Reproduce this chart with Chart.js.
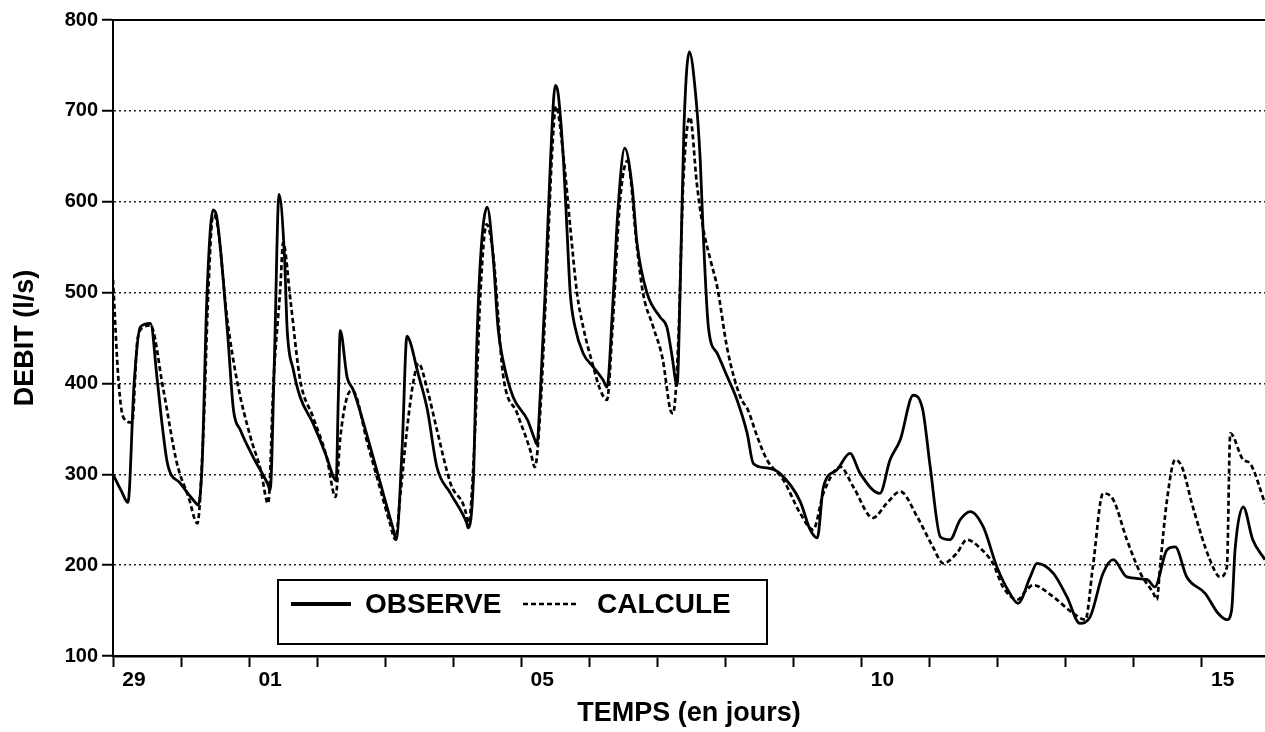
<!DOCTYPE html>
<html lang="fr">
<head>
<meta charset="utf-8">
<title>Débit observé / calculé</title>
<script src="https://cdn.jsdelivr.net/npm/chart.js@4.4.1/dist/chart.umd.min.js"></script>
<style>
    html, body { margin: 0; padding: 0; background: #fff; }
    #wrap { position: relative; width: 1265px; height: 732px; }
</style>
</head>
<body>
<div id="wrap"><canvas id="chDebit" width="1265" height="732"></canvas></div>
<script>
// Jours depuis le 29 (0 = 29, 2 = 01, ...)
const dayLabels = ['29', '30', '01', '02', '03', '04', '05', '06', '07', '08', '09', '10', '11', '12', '13', '14', '15'];
const shownDays = ['29', '01', '05', '10', '15'];

// Débit observé (l/s)
const obsDays = [0.00, 0.12, 0.22, 0.31, 0.40, 0.55, 0.65, 0.72, 0.80, 0.99, 1.21, 1.25, 1.31, 1.38, 1.47, 1.52,
    1.68, 1.77, 1.87, 2.06, 2.27, 2.31, 2.37, 2.44, 2.52, 2.56, 2.65, 2.75, 2.94, 3.14, 3.24, 3.28, 3.31, 3.34,
    3.44, 3.53, 3.74, 3.93, 4.12, 4.16, 4.25, 4.32, 4.37, 4.47, 4.62, 4.76, 4.96, 5.20, 5.22, 5.30, 5.34, 5.40,
    5.50, 5.59, 5.66, 5.73, 5.88, 6.09, 6.20, 6.23, 6.28, 6.35, 6.43, 6.50, 6.54, 6.62, 6.67, 6.72, 6.79, 6.91,
    7.06, 7.20, 7.26, 7.34, 7.42, 7.52, 7.63, 7.70, 7.85, 8.04, 8.14, 8.21, 8.29, 8.34, 8.39, 8.47, 8.56, 8.63,
    8.67, 8.75, 8.88, 9.03, 9.17, 9.32, 9.41, 9.61, 9.80, 10.10, 10.24, 10.35, 10.44, 10.64, 10.83, 10.98, 11.27,
    11.42, 11.57, 11.76, 11.90, 12.01, 12.16, 12.30, 12.45, 12.60, 12.79, 12.99, 13.18, 13.30, 13.48, 13.58,
    13.82, 14.02, 14.21, 14.36, 14.55, 14.70, 14.90, 15.20, 15.31, 15.49, 15.61, 15.78, 16.05, 16.24, 16.37,
    16.44, 16.49, 16.61, 16.75, 16.93];
const obsFlow = [300, 282, 269, 400, 462, 466, 404, 356, 312, 290, 269, 266, 312, 495, 591, 585,
    459, 371, 349, 319, 290, 283, 420, 608, 540, 459, 415, 385, 356, 319, 297, 293, 380, 458,
    407, 393, 341, 290, 239, 228, 330, 452, 445, 415, 371, 308, 279, 246, 241, 300, 426, 536,
    594, 536, 460, 426, 385, 360, 338, 333, 389, 499, 646, 728, 720, 646, 572, 499, 462, 433,
    418, 404, 396, 480, 590, 659, 616, 555, 499, 473, 462, 433, 398, 520, 680, 765, 720, 646,
    572, 462, 433, 407, 382, 345, 312, 307, 301, 270, 240, 230, 286, 305, 323, 301, 279,
    316, 338, 387, 371, 308, 231, 228, 250, 259, 242, 198, 169, 158, 187, 202,
    191, 165, 136, 143, 191, 206, 187, 184, 176, 217, 220, 187, 169, 147, 140,
    151, 217, 264, 228, 206];

// Débit calculé (l/s)
const calcDays = [0.00, 0.08, 0.15, 0.28, 0.36, 0.45, 0.55, 0.74, 0.94, 1.11, 1.24, 1.33, 1.40, 1.47, 1.52,
    1.68, 1.83, 2.02, 2.17, 2.28, 2.36, 2.46, 2.50, 2.61, 2.75, 2.94, 3.14, 3.27, 3.34, 3.44, 3.52,
    3.74, 3.93, 4.07, 4.15, 4.22, 4.32, 4.41, 4.49, 4.62, 4.76, 4.96, 5.20, 5.22, 5.31, 5.40, 5.49,
    5.59, 5.73, 5.94, 6.13, 6.20, 6.28, 6.38, 6.45, 6.51, 6.62, 6.72, 6.82, 6.91, 7.06, 7.16, 7.26,
    7.34, 7.45, 7.56, 7.70, 7.79, 7.94, 8.08, 8.19, 8.23, 8.31, 8.38, 8.48, 8.58, 8.67, 8.78, 8.88,
    9.03, 9.22, 9.33, 9.47, 9.61, 9.85, 10.10, 10.29, 10.44, 10.69, 10.88, 11.17, 11.37, 11.57, 11.82,
    12.05, 12.20, 12.40, 12.55, 12.74, 12.93, 13.08, 13.29, 13.43, 13.52, 13.82, 14.11, 14.29, 14.40,
    14.55, 14.70, 14.90, 15.10, 15.29, 15.34, 15.39, 15.49, 15.61, 15.71, 15.87, 16.12, 16.27, 16.37,
    16.42, 16.61, 16.71, 16.93];
const calcFlow = [514, 404, 363, 357, 448, 462, 464, 393, 312, 275, 246, 350, 500, 585, 580,
    470, 400, 341, 305, 268, 404, 506, 555, 490, 404, 363, 319, 275, 340, 385, 392,
    334, 283, 246, 228, 275, 349, 400, 422, 393, 349, 290, 253, 242, 330, 500, 575,
    540, 411, 367, 327, 308, 370, 530, 650, 705, 650, 572, 499, 462, 418, 393, 382,
    460, 600, 645, 550, 499, 462, 426, 371, 367, 450, 620, 693, 620, 572, 536, 506,
    437, 385, 371, 341, 316, 294, 257, 239, 279, 308, 286, 252, 268, 281, 253,
    220, 202, 213, 228, 219, 202, 176, 162, 173, 178, 165, 147, 140, 198,
    279, 272, 228, 191, 169, 162, 200, 272, 316, 308, 264, 206, 187, 198,
    345, 316, 312, 268];

const FONT = '"Liberation Sans", Arial, Helvetica, sans-serif';

function toPoints(xs, ys) {
    return xs.map((x, i) => ({ x, y: ys[i] }));
}

// Cadre du haut (ligne pleine au niveau 800)
const topFrame = {
    id: 'topFrame',
    afterDraw(chart) {
        const { ctx, chartArea: a } = chart;
        ctx.save();
        ctx.strokeStyle = '#000';
        ctx.lineWidth = 2;
        ctx.beginPath();
        ctx.moveTo(a.left, a.top);
        ctx.lineTo(a.right, a.top);
        ctx.stroke();
        ctx.restore();
    }
};

// Légende encadrée dans la zone du graphique
const boxLegend = {
    id: 'boxLegend',
    afterDraw(chart) {
        const { ctx, chartArea: a } = chart;
        const x0 = a.left + 165, y0 = a.bottom - 76, w = 489, h = 64;
        const cy = y0 + 24;
        ctx.save();
        ctx.fillStyle = '#fff';
        ctx.fillRect(x0, y0, w, h);
        ctx.strokeStyle = '#000';
        ctx.lineWidth = 2;
        ctx.strokeRect(x0, y0, w, h);

        const items = [
            { ds: chart.data.datasets[0], x1: x0 + 13, x2: x0 + 73, tx: x0 + 87, lw: 4 },
            { ds: chart.data.datasets[1], x1: x0 + 245, x2: x0 + 299, tx: x0 + 319, lw: 2.5 }
        ];
        items.forEach(it => {
            ctx.beginPath();
            ctx.setLineDash(it.ds.borderDash || []);
            ctx.lineWidth = it.lw;
            ctx.moveTo(it.x1, cy);
            ctx.lineTo(it.x2, cy);
            ctx.stroke();
            ctx.setLineDash([]);
            ctx.fillStyle = '#000';
            ctx.font = `bold 28px ${FONT}`;
            ctx.textBaseline = 'middle';
            ctx.fillText(it.ds.label, it.tx, cy + 1);
        });
        ctx.restore();
    }
};

new Chart(document.getElementById('chDebit'), {
    type: 'line',
    data: {
        datasets: [
            {
                label: 'OBSERVE',
                data: toPoints(obsDays, obsFlow),
                borderColor: '#000',
                borderWidth: 2.8,
                pointRadius: 0,
                cubicInterpolationMode: 'monotone'
            },
            {
                label: 'CALCULE',
                data: toPoints(calcDays, calcFlow),
                borderColor: '#000',
                borderWidth: 2.7,
                borderDash: [5, 3],
                pointRadius: 0,
                cubicInterpolationMode: 'monotone'
            }
        ]
    },
    options: {
        responsive: false,
        animation: false,
        layout: { padding: { top: 20, right: 0, left: 0, bottom: 0 } },
        plugins: {
            legend: { display: false },
            tooltip: { enabled: false }
        },
        scales: {
            x: {
                type: 'linear',
                min: 0,
                max: 16.93,
                afterFit: s => { s.height = 76; },
                border: { color: '#000', width: 2.5 },
                grid: {
                    drawOnChartArea: false,
                    drawTicks: true,
                    tickLength: 11,
                    tickWidth: 2,
                    tickColor: '#000'
                },
                ticks: {
                    stepSize: 1,
                    includeBounds: false,
                    autoSkip: false,
                    maxRotation: 0,
                    labelOffset: 21,
                    padding: 1,
                    color: '#000',
                    font: { family: FONT, size: 21, weight: 'bold' },
                    callback: v => {
                        const l = dayLabels[v];
                        return shownDays.includes(l) ? l : '';
                    }
                },
                title: {
                    display: true,
                    text: 'TEMPS (en jours)',
                    color: '#000',
                    padding: { top: 0, bottom: 2 },
                    font: { family: FONT, size: 27, weight: 'bold' }
                }
            },
            y: {
                min: 100,
                max: 800,
                afterFit: s => { s.width = 113; },
                border: { color: '#000', width: 2, dash: [2, 3] },
                grid: {
                    color: c => (c.tick && (c.tick.value === 100 || c.tick.value === 800)) ? 'rgba(0,0,0,0)' : '#222',
                    lineWidth: 1.5,
                    tickLength: 11,
                    tickWidth: 2,
                    tickColor: '#000'
                },
                ticks: {
                    stepSize: 100,
                    padding: 4,
                    color: '#000',
                    font: { family: FONT, size: 20, weight: 'bold' }
                },
                title: {
                    display: true,
                    text: 'DEBIT (l/s)',
                    color: '#000',
                    padding: { top: 9, bottom: 0 },
                    font: { family: FONT, size: 27, weight: 'bold' }
                }
            }
        }
    },
    plugins: [topFrame, boxLegend]
});
</script>
</body>
</html>
